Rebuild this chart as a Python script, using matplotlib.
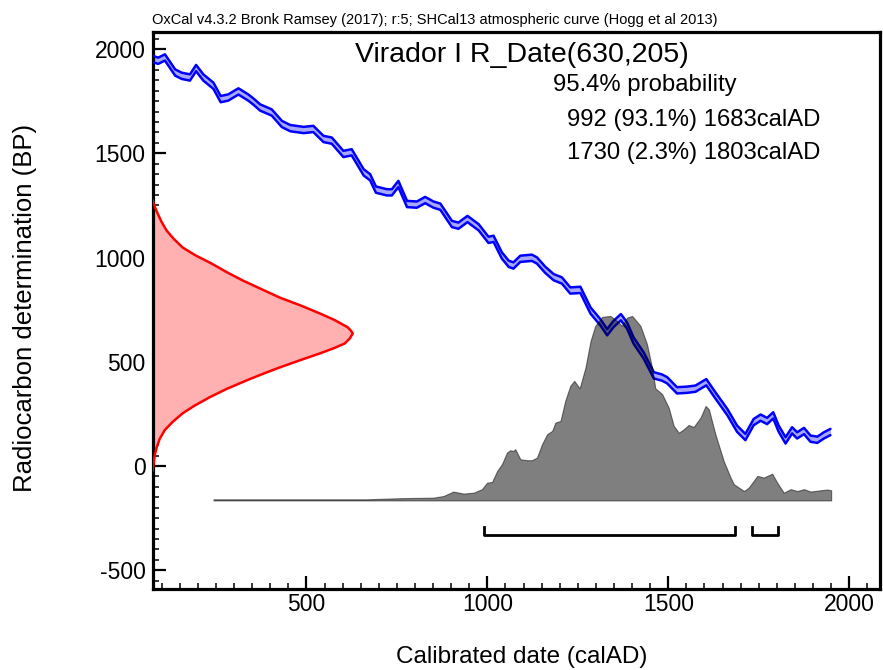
import numpy as np
import matplotlib
matplotlib.use('Agg')
import matplotlib.pyplot as plt
from matplotlib.ticker import MultipleLocator

plt.rcParams['font.family'] = ['Liberation Sans', 'DejaVu Sans']
plt.rcParams['axes.unicode_minus'] = False

# calibration curve (SHCal13), centre values
curve_year = [77, 90, 109, 137, 155, 178, 195, 215, 243, 263, 284, 312, 339, 353, 372,
              404, 432, 455, 492, 519, 547, 570, 602, 625, 658, 676, 692, 722, 736, 754,
              778, 805, 828, 851, 870, 902, 920, 945, 976, 1003, 1017, 1040, 1059, 1072,
              1091, 1123, 1137, 1160, 1183, 1206, 1229, 1257, 1285, 1312, 1331, 1349,
              1369, 1386, 1404, 1432, 1460, 1483, 1497, 1524, 1552, 1575, 1605, 1630,
              1663, 1690, 1713, 1736, 1755, 1773, 1790, 1805, 1824, 1842, 1856, 1875,
              1893, 1912, 1930, 1948]
curve_bp = [1952, 1944, 1960, 1888, 1872, 1864, 1909, 1864, 1824, 1760, 1768, 1797, 1768,
            1749, 1720, 1696, 1641, 1621, 1612, 1617, 1569, 1561, 1497, 1505, 1409, 1385,
            1326, 1313, 1313, 1353, 1257, 1254, 1276, 1254, 1244, 1161, 1153, 1185, 1145,
            1085, 1090, 1010, 970, 962, 994, 999, 986, 941, 906, 890, 842, 845, 746, 690,
            642, 682, 714, 674, 602, 530, 435, 424, 411, 363, 366, 371, 402, 339, 259, 179,
            139, 211, 232, 216, 243, 179, 123, 171, 147, 168, 131, 126, 147, 163]
curve_err = 15

# radiocarbon date 630 +/- 205 BP, relative probability
date_bp = [1273, 1240, 1211, 1170, 1129, 1090, 1048, 1010, 971, 930, 890, 850, 808, 770,
           732, 700, 665, 650, 636, 612, 588, 565, 540, 507, 473, 442, 411, 370, 330,
           290, 253, 212, 172, 130, 90, 50, 13, -20]
date_prob = [0.0, 0.012, 0.025, 0.045, 0.07, 0.105, 0.15, 0.215, 0.295, 0.37, 0.45, 0.54,
             0.635, 0.74, 0.835, 0.91, 0.975, 0.99, 1.0, 0.985, 0.96, 0.905, 0.835, 0.735,
             0.635, 0.55, 0.47, 0.37, 0.285, 0.21, 0.15, 0.1, 0.06, 0.035, 0.02, 0.01,
             0.005, 0.0]

# calibrated distribution
cal_year = [243, 667, 759, 851, 879, 906, 934, 962, 985, 999, 1013, 1027, 1040, 1054,
            1063, 1072, 1077, 1091, 1109, 1123, 1137, 1151, 1165, 1179, 1188, 1202, 1215,
            1229, 1240, 1255, 1271, 1285, 1298, 1317, 1340, 1358, 1372, 1386, 1400, 1423,
            1441, 1455, 1464, 1483, 1501, 1515, 1529, 1543, 1556, 1570, 1589, 1603, 1612,
            1630, 1653, 1672, 1681, 1709, 1722, 1746, 1764, 1787, 1801, 1819, 1838, 1856,
            1875, 1893, 1921, 1939, 1950]
cal_prob = [0.006, 0.006, 0.012, 0.015, 0.024, 0.048, 0.037, 0.042, 0.061, 0.096, 0.100,
            0.160, 0.196, 0.259, 0.272, 0.268, 0.278, 0.223, 0.218, 0.218, 0.232, 0.305,
            0.359, 0.377, 0.422, 0.431, 0.539, 0.621, 0.648, 0.608, 0.720, 0.864, 0.946,
            0.995, 1.0, 0.973, 0.946, 0.991, 1.0, 0.946, 0.847, 0.720, 0.608, 0.576, 0.503,
            0.404, 0.367, 0.386, 0.409, 0.398, 0.449, 0.512, 0.494, 0.359, 0.214, 0.124,
            0.088, 0.051, 0.069, 0.133, 0.124, 0.145, 0.096, 0.042, 0.061, 0.051, 0.061,
            0.048, 0.055, 0.059, 0.055]

# 95.4% ranges
ranges = [(992, 1683), (1730, 1803)]

header = 'OxCal v4.3.2 Bronk Ramsey (2017); r:5; SHCal13 atmospheric curve (Hogg et al 2013)'
title = 'Virador I R_Date(630,205)'
prob_lines = ['95.4% probability', '992 (93.1%) 1683calAD', '1730 (2.3%) 1803calAD']

x_min, x_max = 75, 2085
y_min, y_max = -590, 2082

fig = plt.figure(figsize=(8.83, 6.7), dpi=100)
ax = fig.add_axes([0.1729, 0.1209, 0.8237, 0.8313])

# calibration curve band
cy = np.array(curve_year)
cb = np.array(curve_bp)
ax.fill_between(cy, cb - curve_err, cb + curve_err, color='#a8a8ff', lw=0, zorder=2)
ax.plot(cy, cb + curve_err, color='#0000ff', lw=1.8, zorder=3,
        solid_joinstyle='round', solid_capstyle='round')
ax.plot(cy, cb - curve_err, color='#0000ff', lw=1.8, zorder=3,
        solid_joinstyle='round', solid_capstyle='round')

# radiocarbon date on the y axis
dp = np.array(date_prob)
ax.fill_betweenx(date_bp, x_min, x_min + dp * 553, color='#ffb0b0', lw=0, zorder=2)
ax.plot(x_min + dp * 553, date_bp, color='#ff0000', lw=1.8, zorder=3,
        solid_joinstyle='round')

# calibrated distribution (dark, translucent, over the curve)
base = -165
ax.fill_between(cal_year, base, base + np.array(cal_prob) * 885,
                color='black', alpha=0.5, lw=0.8, zorder=4)

# range brackets
for a, b in ranges:
    ax.plot([a, a, b, b], [-292, -332, -332, -292], color='black', lw=2, zorder=5)

ax.set_xlim(x_min, x_max)
ax.set_ylim(y_min, y_max)
ax.xaxis.set_major_locator(MultipleLocator(500))
ax.xaxis.set_minor_locator(MultipleLocator(50))
ax.yaxis.set_major_locator(MultipleLocator(500))
ax.yaxis.set_minor_locator(MultipleLocator(50))
ax.tick_params(which='both', direction='in', top=False, right=False, labelsize=16.5)
ax.tick_params(which='major', length=9.5, width=1.6)
ax.tick_params(which='minor', length=4.5, width=1.1)
ax.tick_params(axis='x', pad=3)
ax.tick_params(axis='y', pad=5)
for s in ax.spines.values():
    s.set_linewidth(2.3)

ax.set_xlabel('Calibrated date (calAD)', fontsize=17.5)
ax.xaxis.label.set_va('center')
ax.xaxis.set_label_coords(0.508, -0.122)
ax.set_ylabel('Radiocarbon determination (BP)', fontsize=18.5)
ax.yaxis.label.set_va('center')
ax.yaxis.set_label_coords(-0.1756, 0.5045)

fig.text(0.172, 0.970, header, fontsize=10.5, va='center', ha='left')
fig.text(0.591, 0.918, title, fontsize=20.5, va='center', ha='center')
fig.text(0.626, 0.873, prob_lines[0], fontsize=17.2, va='center', ha='left')
fig.text(0.642, 0.821, prob_lines[1], fontsize=17.2, va='center', ha='left')
fig.text(0.642, 0.772, prob_lines[2], fontsize=17.2, va='center', ha='left')

plt.savefig('out.png', dpi=100)
